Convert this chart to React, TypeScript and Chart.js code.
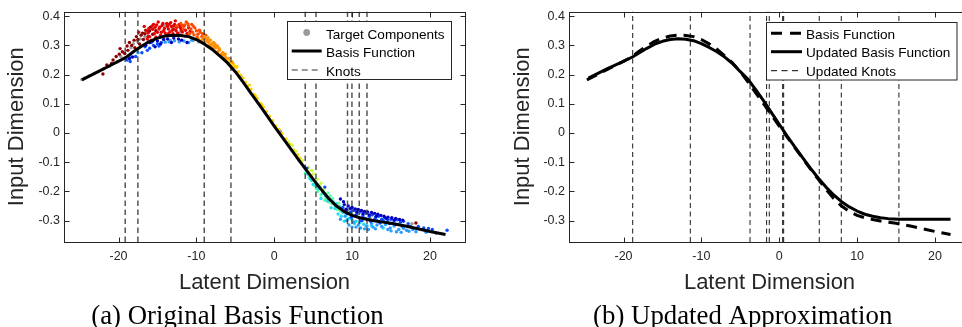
import React, { useEffect, useRef } from 'react';
import { Chart, registerables } from 'chart.js';

Chart.register(...registerables);

const SANS = "'Liberation Sans', Arial, Helvetica, sans-serif";
const SERIF = "'Liberation Serif', 'Times New Roman', serif";
const INK = '#262626';

// ---- axes ----
const xLimits = [-27, 24.5];
const yLimits = [-0.373, 0.416];
const xTicks = [-20, -10, 0, 10, 20];
const yTicks = [-0.3, -0.2, -0.1, 0, 0.1, 0.2, 0.3, 0.4];

// ---- original basis function ----
const basisX = [-24.7, -23, -21, -19.1, -18, -17, -16, -15, -14, -13, -12, -11, -10, -9, -8, -7, -6, -5, -4, -3, -2, -1, 0, 1, 2, 3, 4, 5, 6, 7, 8, 9, 10, 11, 12, 13, 14, 15, 16, 17, 18, 19, 20, 21, 22];
const basisY = [0.182, 0.205, 0.232, 0.258, 0.28, 0.298, 0.314, 0.325, 0.332, 0.335, 0.334, 0.33, 0.32, 0.305, 0.287, 0.264, 0.24, 0.21, 0.174, 0.137, 0.1, 0.062, 0.024, -0.013, -0.05, -0.087, -0.123, -0.158, -0.192, -0.224, -0.25, -0.269, -0.282, -0.29, -0.296, -0.301, -0.305, -0.309, -0.314, -0.319, -0.325, -0.331, -0.337, -0.342, -0.347];

// ---- updated basis function ----
const updatedX = [-24.5, -22, -20, -18.8, -17, -16, -15, -14, -13, -12, -11, -10, -9, -8, -7, -6, -5, -4, -3, -2, -1, 0, 1, 2, 3, 4, 5, 6, 7, 8, 9, 10, 11, 12, 13, 14, 15.4, 17, 19, 22];
const updatedY = [0.188, 0.221, 0.245, 0.261, 0.29, 0.304, 0.314, 0.32, 0.323, 0.321, 0.316, 0.306, 0.293, 0.278, 0.26, 0.238, 0.21, 0.184, 0.148, 0.11, 0.07, 0.03, -0.01, -0.047, -0.084, -0.12, -0.154, -0.185, -0.212, -0.235, -0.253, -0.267, -0.278, -0.285, -0.29, -0.293, -0.295, -0.295, -0.295, -0.295];

// ---- knots ----
const knotsOriginal = [-19.14, -17.51, -8.99, -5.56, 3.98, 5.36, 9.41, 9.98, 10.92, 11.91];
const knotsUpdated = [-18.82, -11.42, -3.75, -1.62, -1.28, 0.44, 0.57, 5.14, 7.97, 15.37];

// ---- target components (scatter, grouped by colour) ----
const compGray = [[-24.7, 0.183], [-24.4, 0.188], [-23.8, 0.195], [-23.1, 0.204], [-22.6, 0.21], [-21.9, 0.22], [-21.2, 0.228], [-20.6, 0.238], [-20.2, 0.243], [-19.7, 0.262], [-18.4, 0.292], [-18.1, 0.306], [-17.6, 0.315], [-17.2, 0.322], [-16.6, 0.33], [-16.1, 0.346], [-14.0, 0.367], [-13.1, 0.36], [-12.7, 0.356], [-12.1, 0.345], [-11.4, 0.33], [-10.4, 0.317], [-9.7, 0.312], [-8.6, 0.322], [-8.1, 0.3], [-6.4, 0.258], [-4.2, 0.19], [-2.6, 0.13], [0.8, 0.005], [3.2, -0.095], [6.8, -0.232], [9.5, -0.262], [10.6, -0.262], [12.3, -0.29], [17.7, -0.31]];
const compDarkRed = [[-22.0, 0.202], [-21.5, 0.233], [-20.7, 0.25], [-20.3, 0.262], [-19.8, 0.289], [-19.5, 0.278], [-18.8, 0.283], [-18.3, 0.3], [-18.0, 0.318], [-17.7, 0.33], [-17.3, 0.305], [-16.9, 0.342], [-16.5, 0.352], [-16.2, 0.33], [-15.9, 0.362], [-15.6, 0.338], [-17.9, 0.292], [-18.6, 0.31], [-19.2, 0.272], [-16.8, 0.32], [-15.2, 0.35], [-18.9, 0.298], [-17.5, 0.32], [-17.1, 0.335], [-16.6, 0.34], [-16.0, 0.35], [-19.9, 0.27], [-20.9, 0.238], [18.2, -0.308]];
const compRed = [[-16.4, 0.35], [-16.0, 0.33], [-15.5, 0.372], [-15.3, 0.362], [-15.0, 0.345], [-14.8, 0.356], [-14.6, 0.335], [-14.4, 0.368], [-14.2, 0.35], [-14.0, 0.342], [-13.8, 0.375], [-13.6, 0.356], [-13.4, 0.346], [-13.2, 0.365], [-12.9, 0.367], [-12.7, 0.384], [-12.6, 0.35], [-12.4, 0.342], [-12.2, 0.372], [-12.0, 0.358], [-11.8, 0.346], [-11.6, 0.366], [-11.4, 0.352], [-11.2, 0.341], [-15.8, 0.318], [-15.2, 0.328], [-14.9, 0.38], [-13.9, 0.334], [-13.0, 0.34], [-12.3, 0.336], [-11.0, 0.36], [-10.8, 0.348], [-16.7, 0.365], [-16.2, 0.342], [-17.4, 0.345], [-13.5, 0.372], [-14.1, 0.358], [-15.6, 0.355], [-13.1, 0.352], [-12.5, 0.362], [-16.1, 0.358], [-15.7, 0.366], [-15.1, 0.37], [-14.7, 0.362], [-14.3, 0.375], [-13.7, 0.365], [-13.3, 0.378], [-12.8, 0.372], [-12.1, 0.365], [-11.9, 0.352], [-15.4, 0.34], [-14.5, 0.345], [-13.6, 0.34], [-12.9, 0.355], [-16.3, 0.322]];
const compOrangeRed = [[-12.0, 0.375], [-11.5, 0.37], [-11.0, 0.366], [-10.7, 0.356], [-10.5, 0.345], [-10.2, 0.36], [-10.0, 0.35], [-9.8, 0.338], [-9.5, 0.345], [-9.3, 0.33], [-9.0, 0.325], [-11.3, 0.38], [-10.6, 0.372], [-12.5, 0.366], [-9.9, 0.328], [-8.8, 0.335], [-11.7, 0.356], [-10.3, 0.336], [-11.8, 0.368], [-11.1, 0.374], [-10.4, 0.366], [-9.6, 0.352], [-9.2, 0.34], [-10.9, 0.34]];
const compOrange = [[-9.4, 0.315], [-9.0, 0.33], [-8.7, 0.32], [-8.4, 0.31], [-8.2, 0.318], [-8.0, 0.305], [-7.7, 0.298], [-7.5, 0.292], [-7.2, 0.28], [-7.0, 0.284], [-6.8, 0.27], [-6.5, 0.266], [-6.2, 0.258], [-6.0, 0.25], [-5.7, 0.242], [-5.4, 0.243], [-5.1, 0.228], [-8.9, 0.31], [-7.9, 0.29], [-7.3, 0.298], [-6.6, 0.276], [-9.7, 0.322], [-8.5, 0.326], [-7.6, 0.305], [-9.2, 0.322], [-8.6, 0.315], [-8.3, 0.3], [-7.8, 0.31], [-7.1, 0.29], [-6.9, 0.262], [-6.3, 0.27], [-5.8, 0.255], [-5.3, 0.236]];
const compYellow = [[-5.6, 0.235], [-5.2, 0.232], [-4.9, 0.224], [-4.6, 0.21], [-4.3, 0.198], [-4.0, 0.188], [-3.7, 0.174], [-3.4, 0.162], [-3.0, 0.15], [-2.6, 0.132], [-2.2, 0.118], [-1.8, 0.102], [-1.4, 0.088], [-1.0, 0.074], [-0.6, 0.058], [-0.2, 0.042], [0.2, 0.024], [0.6, 0.012], [1.0, -0.002], [1.5, -0.02], [2.0, -0.038], [2.5, -0.058], [3.0, -0.074], [3.3, -0.086], [-4.8, 0.228], [-3.2, 0.164], [-1.6, 0.097], [-5.9, 0.248], [-2.4, 0.127]];
const compYellowGreen = [[1.8, -0.03], [2.3, -0.042], [2.8, -0.062], [3.6, -0.095], [4.4, -0.118], [5.0, -0.14], [5.5, -0.158], [6.0, -0.172], [6.4, -0.19], [4.8, -0.128]];
const compGreen = [[4.5, -0.152], [5.2, -0.18], [5.6, -0.2], [6.0, -0.212], [6.3, -0.198], [6.7, -0.222], [7.0, -0.236], [7.4, -0.242], [7.8, -0.248], [5.9, -0.185], [6.9, -0.205], [7.5, -0.225], [8.1, -0.262], [8.5, -0.266], [4.0, -0.137], [5.4, -0.19], [6.5, -0.23], [7.2, -0.215], [8.3, -0.24]];
const compCyan = [[4.3, -0.14], [4.8, -0.162], [5.3, -0.172], [5.7, -0.19], [6.2, -0.206], [6.6, -0.216], [7.1, -0.226], [7.6, -0.236], [8.0, -0.242], [8.4, -0.252], [8.8, -0.272], [9.2, -0.282], [9.6, -0.292], [10.0, -0.297], [10.5, -0.302], [11.0, -0.306], [11.5, -0.312], [7.3, -0.256], [8.2, -0.277], [9.0, -0.302], [4.6, -0.156], [5.0, -0.176], [6.0, -0.224], [12.5, -0.318], [14.0, -0.325], [5.5, -0.185], [6.4, -0.208], [6.9, -0.232], [7.8, -0.258], [8.6, -0.285], [9.4, -0.296], [10.3, -0.31], [11.8, -0.318]];
const compLightBlue = [[8.5, -0.295], [9.1, -0.285], [9.6, -0.315], [10.2, -0.305], [10.8, -0.315], [11.3, -0.3], [11.9, -0.318], [12.5, -0.31], [12.7, -0.322], [13.2, -0.315], [13.8, -0.32], [14.3, -0.313], [14.9, -0.325], [15.4, -0.318], [16.0, -0.33], [16.6, -0.326], [17.0, -0.333], [17.3, -0.336], [17.8, -0.33], [10.0, -0.322], [11.6, -0.328], [13.5, -0.305], [15.0, -0.335], [9.3, -0.3], [10.5, -0.322], [11.1, -0.325], [12.1, -0.33], [13.0, -0.328], [14.6, -0.33], [15.7, -0.338], [16.3, -0.34], [18.2, -0.338], [19.5, -0.34], [20.8, -0.343], [-13.5, 0.312], [-12.8, 0.316], [-12.2, 0.312], [-11.6, 0.315], [-11.0, 0.31], [-10.6, 0.318], [-14.0, 0.311], [-13.35, 0.317], [-18.5, 0.262], [-17.5, 0.275]];
const compBlue = [[8.8, -0.255], [9.3, -0.26], [9.8, -0.27], [10.2, -0.265], [10.6, -0.278], [11.0, -0.27], [11.4, -0.283], [11.8, -0.275], [12.2, -0.285], [12.6, -0.28], [13.0, -0.29], [13.4, -0.285], [13.8, -0.295], [14.2, -0.29], [14.6, -0.298], [15.0, -0.295], [15.4, -0.3], [15.8, -0.297], [16.2, -0.305], [16.6, -0.302], [17.2, -0.31], [19.8, -0.327], [20.3, -0.33], [22.2, -0.333], [9.9, -0.288], [10.9, -0.29], [12.0, -0.296], [13.2, -0.3], [14.4, -0.305], [9.4, -0.275], [10.4, -0.283], [11.2, -0.3], [11.7, -0.292], [12.4, -0.302], [12.9, -0.296], [13.6, -0.308], [14.0, -0.3], [14.8, -0.31], [15.6, -0.312], [16.4, -0.318], [17.5, -0.32], [18.5, -0.32], [19.2, -0.325], [4.2, -0.12], [6.5, -0.185], [-18.9, 0.25], [-18.5, 0.245], [-17.0, 0.275], [-16.3, 0.283], [-16.0, 0.29], [-15.5, 0.3], [-15.0, 0.305], [-14.5, 0.31], [-16.6, 0.295], [-15.8, 0.31], [-17.8, 0.262], [-14.8, 0.298]];
const compDarkBlue = [[8.5, -0.226], [9.0, -0.245], [9.5, -0.25], [10.0, -0.255], [10.4, -0.26], [10.8, -0.262], [11.2, -0.265], [11.6, -0.268], [12.0, -0.27], [12.5, -0.272], [12.9, -0.275], [13.3, -0.278], [13.7, -0.282], [14.1, -0.285], [14.6, -0.288], [15.1, -0.29], [15.6, -0.292], [16.1, -0.296], [16.5, -0.298], [9.2, -0.262], [9.8, -0.258], [10.6, -0.27], [11.4, -0.276], [12.2, -0.28], [13.1, -0.285], [14.4, -0.292], [15.4, -0.298], [8.9, -0.235], [-16.5, 0.3], [-16.0, 0.31], [-15.6, 0.315], [-15.0, 0.315], [-14.2, 0.32], [-13.7, 0.322], [-12.9, 0.325], [-12.3, 0.322], [-11.9, 0.318], [-15.3, 0.295], [-14.6, 0.305], [-13.2, 0.31], [-11.2, 0.31], [-18.6, 0.255], [-18.2, 0.26]];

// ---- helpers ----
const toPoints = (xs: number[], ys: number[]) => xs.map((x, i) => ({ x, y: ys[i] }));

const scatterSet = (arr: number[][], color: string) => ({
  data: arr.map(([x, y]) => ({ x, y })),
  backgroundColor: color,
  borderWidth: 0,
  pointRadius: 1.7,
  pointHoverRadius: 1.7,
  showLine: false,
  order: 5,
});

const lineSet = (xs: number[], ys: number[], color: string, width: number, dash: number[], order: number) => ({
  data: toPoints(xs, ys),
  showLine: true,
  borderColor: color,
  backgroundColor: color,
  borderWidth: width,
  borderDash: dash,
  borderJoinStyle: 'round',
  pointRadius: 0,
  pointHoverRadius: 0,
  fill: false,
  tension: 0,
  order,
});

const knotSets = (knots: number[], color: string, width: number, dash: number[]) =>
  knots.map((k) => lineSet([k, k], [yLimits[0], yLimits[1]], color, width, dash, 3));

// ---- plugin drawing MATLAB-like frame, ticks, legend and caption ----
const matlabPlugin = {
  id: 'matlab',
  afterDatasetsDraw(chart: any, _args: any, o: any) {
    const { ctx, chartArea: a, scales } = chart;
    const xs = scales.x;
    const ys = scales.y;
    ctx.save();
    ctx.setLineDash([]);
    ctx.strokeStyle = INK;
    ctx.lineWidth = 1;
    const L = Math.round(a.left) + 0.5;
    const R = Math.round(a.right) + 0.5;
    const T = Math.round(a.top) + 0.5;
    const B = Math.round(a.bottom) + 0.5;
    ctx.beginPath();
    for (const v of xTicks) {
      const px = Math.round(xs.getPixelForValue(v)) + 0.5;
      ctx.moveTo(px, B); ctx.lineTo(px, B - 5);
      ctx.moveTo(px, T); ctx.lineTo(px, T + 5);
    }
    for (const v of yTicks) {
      const py = Math.round(ys.getPixelForValue(v)) + 0.5;
      ctx.moveTo(L, py); ctx.lineTo(L + 5, py);
      ctx.moveTo(R, py); ctx.lineTo(R - 5, py);
    }
    ctx.stroke();
    ctx.strokeRect(L, T, R - L, B - T);

    // legend
    const lg = o.legend;
    if (lg) {
      const [bl, bt, br, bb] = lg.box;
      ctx.fillStyle = '#ffffff';
      ctx.fillRect(bl, bt, br - bl, bb - bt);
      ctx.strokeStyle = INK;
      ctx.lineWidth = 1;
      ctx.strokeRect(bl, bt, br - bl, bb - bt);
      ctx.font = `${lg.fontSize}px ${SANS}`;
      ctx.textBaseline = 'alphabetic';
      ctx.textAlign = 'left';
      for (const it of lg.items) {
        if (it.kind === 'marker') {
          ctx.fillStyle = it.color;
          ctx.beginPath();
          ctx.arc((lg.sampleX[0] + lg.sampleX[1]) / 2, it.y, 3.4, 0, Math.PI * 2);
          ctx.fill();
        } else {
          ctx.strokeStyle = it.color;
          ctx.lineWidth = it.width;
          ctx.setLineDash(it.dash);
          ctx.beginPath();
          ctx.moveTo(lg.sampleX[0], it.y);
          ctx.lineTo(lg.sampleX[1], it.y);
          ctx.stroke();
          ctx.setLineDash([]);
        }
        ctx.fillStyle = '#000';
        ctx.fillText(it.label, lg.textX, it.textY);
      }
    }

    // caption
    if (o.caption) {
      ctx.font = `${o.caption.size}px ${SERIF}`;
      ctx.fillStyle = '#000';
      ctx.textAlign = 'center';
      ctx.textBaseline = 'alphabetic';
      ctx.fillText(o.caption.text, o.caption.x, o.caption.y);
    }
    ctx.restore();
  },
};

const buildOptions = (plotLeft: number, yTitlePad: number, matlab: any) => ({
  animation: false,
  responsive: false,
  maintainAspectRatio: false,
  devicePixelRatio: 1,
  events: [],
  layout: { padding: { left: 0, top: 7, right: 16, bottom: 0 } },
  plugins: {
    legend: { display: false },
    tooltip: { enabled: false },
    matlab,
  },
  scales: {
    x: {
      type: 'linear',
      min: xLimits[0],
      max: xLimits[1],
      grid: { display: false, drawTicks: false },
      border: { display: false },
      afterBuildTicks: (s: any) => { s.ticks = xTicks.map((v) => ({ value: v })); },
      afterFit: (s: any) => { s.height = 85; },
      ticks: {
        autoSkip: false,
        maxRotation: 0,
        padding: 7.5,
        color: INK,
        font: { family: SANS, size: 12.5 },
        callback: (v: any) => String(v),
      },
      title: {
        display: true,
        text: 'Latent Dimension',
        color: INK,
        font: { family: SANS, size: 22 },
        padding: { top: 0, bottom: 30.8 },
      },
    },
    y: {
      type: 'linear',
      min: yLimits[0],
      max: yLimits[1],
      grid: { display: false, drawTicks: false },
      border: { display: false },
      afterBuildTicks: (s: any) => { s.ticks = yTicks.map((v) => ({ value: v })); },
      afterFit: (s: any) => { s.width = plotLeft; },
      ticks: {
        autoSkip: false,
        padding: 4,
        color: INK,
        font: { family: SANS, size: 12.5 },
        callback: (v: any) => (Math.abs(Number(v)) < 1e-9 ? '0' : Number(v).toFixed(1)),
      },
      title: {
        display: true,
        text: 'Input Dimension',
        color: INK,
        font: { family: SANS, size: 22 },
        padding: { top: yTitlePad, bottom: 0 },
      },
    },
  },
});

const leftConfig = () => ({
  type: 'scatter',
  data: {
    datasets: [
      lineSet(basisX, basisY, '#000000', 3, [], 0),
      ...knotSets(knotsOriginal, 'rgba(55,55,55,0.85)', 1.5, [5.5, 3.5]),
      scatterSet(compDarkBlue, '#0000c0'),
      scatterSet(compBlue, '#0a4dff'),
      scatterSet(compLightBlue, '#2a9dff'),
      scatterSet(compCyan, '#22dcf0'),
      scatterSet(compGreen, '#5cffa3'),
      scatterSet(compYellowGreen, '#c8ff3a'),
      scatterSet(compYellow, '#ffd500'),
      scatterSet(compOrange, '#ff9100'),
      scatterSet(compOrangeRed, '#ff4a00'),
      scatterSet(compRed, '#e60000'),
      scatterSet(compDarkRed, '#8c0000'),
      scatterSet(compGray, '#9b9b9b'),
    ],
  },
  options: buildOptions(64, 4.2, {
    legend: {
      box: [287.5, 21.5, 451.5, 79.5],
      fontSize: 13.6,
      sampleX: [291.7, 321.7],
      textX: 326,
      items: [
        { label: 'Target Components', kind: 'marker', color: '#9b9b9b', y: 32.5, textY: 39 },
        { label: 'Basis Function', kind: 'line', color: '#000', width: 3, dash: [], y: 51, textY: 57.3 },
        { label: 'Knots', kind: 'line', color: '#333', width: 1.2, dash: [6, 4], y: 70, textY: 75.5 },
      ],
    },
    caption: { text: '(a) Original Basis Function', x: 237.5, y: 323.5, size: 26.8 },
  }),
  plugins: [matlabPlugin],
});

const rightConfig = () => ({
  type: 'scatter',
  data: {
    datasets: [
      lineSet(updatedX, updatedY, '#000000', 3, [], 0),
      lineSet(basisX, basisY, '#000000', 3, [11, 7], 1),
      ...knotSets(knotsUpdated, '#1a1a1a', 1, [5, 3.5]),
    ],
  },
  options: buildOptions(88, 28.5, {
    legend: {
      box: [285.5, 22.5, 476, 80],
      fontSize: 13.6,
      sampleX: [290, 321],
      textX: 325,
      items: [
        { label: 'Basis Function', kind: 'line', color: '#000', width: 3, dash: [11, 8], y: 33.3, textY: 38.5 },
        { label: 'Updated Basis Function', kind: 'line', color: '#000', width: 3, dash: [], y: 51.7, textY: 57.3 },
        { label: 'Updated Knots', kind: 'line', color: '#000', width: 1, dash: [6, 4.5], y: 70.7, textY: 75.7 },
      ],
    },
    caption: { text: '(b) Updated Approximation', x: 261.7, y: 323.5, size: 26.8 },
  }),
  plugins: [matlabPlugin],
});

function Plot({ left, width, config }: { left: number; width: number; config: () => any }) {
  const ref = useRef<HTMLCanvasElement>(null);
  useEffect(() => {
    const chart = new Chart(ref.current as HTMLCanvasElement, config());
    return () => chart.destroy();
  }, []);
  return (
    <canvas
      ref={ref}
      width={width}
      height={327}
      style={{ position: 'absolute', left, top: 0, width, height: 327, display: 'block' }}
    />
  );
}

export default function App() {
  return (
    <div
      style={{
        position: 'absolute',
        left: 0,
        top: 0,
        width: 962,
        height: 327,
        overflow: 'hidden',
        background: '#ffffff',
      }}
    >
      <Plot left={0} width={481} config={leftConfig} />
      <Plot left={481} width={505} config={rightConfig} />
    </div>
  );
}
